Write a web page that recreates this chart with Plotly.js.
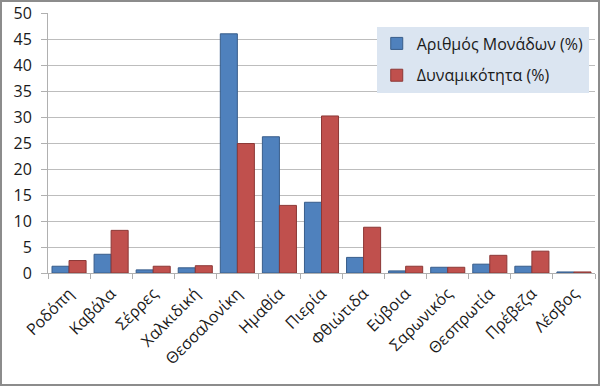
<!DOCTYPE html>
<html><head><meta charset="utf-8">
<script src="https://cdn.plot.ly/plotly-3.0.1.min.js"></script>
<style>
html,body{margin:0;padding:0;background:#fff;}
#wrap{position:relative;width:600px;height:386px;}
#chart{width:600px;height:386px;}
#frame{position:absolute;left:0;top:0;width:596px;height:382px;border:2px solid #8c8c8c;pointer-events:none;}
</style></head>
<body>
<div id="wrap"><div id="chart"></div><div id="frame"></div></div>
<script>
const categories = ["Ροδόπη","Καβάλα","Σέρρες","Χαλκιδική","Θεσσαλονίκη","Ημαθία","Πιερία","Φθιώτιδα","Εύβοια","Σαρωνικός","Θεσπρωτία","Πρέβεζα","Λέσβος"];
const units = [1.3, 3.6, 0.6, 1.0, 46.0, 26.2, 13.6, 3.0, 0.4, 1.1, 1.7, 1.3, 0.2];
const capacity = [2.4, 8.2, 1.3, 1.4, 24.9, 13.0, 30.2, 8.8, 1.3, 1.1, 3.4, 4.2, 0.2];
const seriesNames = ["Αριθμός Μονάδων (%)", "Δυναμικότητα (%)"];

const font = "Open Sans, Noto Sans, DejaVu Sans, sans-serif";
const traces = [
  {type:"bar", x:categories, y:units, name:seriesNames[0], legendgroup:"a",
   marker:{color:"#4f81bd", line:{color:"#385d8a", width:1}}},
  {type:"bar", x:categories, y:capacity, name:seriesNames[1], legendgroup:"b",
   marker:{color:"#c0504d", line:{color:"#8c3836", width:1}}}
];
const layout = {
  width:600, height:386,
  margin:{l:48, r:5, t:13, b:113},
  paper_bgcolor:"#fff", plot_bgcolor:"#fff",
  barmode:"group", bargap:0.19, bargroupgap:0,
  font:{family:font, size:16, color:"#1a1a1a"},
  xaxis:{type:"category", tickangle:-45, tickson:"boundaries", ticks:"outside", ticklen:5,
         tickcolor:"#b0b0b0", showline:true, linecolor:"#b0b0b0", linewidth:1,
         showgrid:false, tickfont:{size:16, family:font}, automargin:false, ticklabelstandoff:4},
  yaxis:{range:[0,50], dtick:5, ticks:"outside", ticklen:6, tickcolor:"#b0b0b0",
         showline:true, linecolor:"#b0b0b0", gridcolor:"#bdbdbd", gridwidth:1,
         zeroline:false, tickfont:{size:16, family:font}, automargin:false, ticklabelstandoff:6},
  showlegend:true,
  legend:{x:0.601, y:0.948, xanchor:"left", yanchor:"top", bgcolor:"#dbe5f1",
          font:{size:16, family:font}, traceorder:"grouped", tracegroupgap:8,
          borderwidth:0}
};
Plotly.newPlot("chart", traces, layout, {displayModeBar:false, staticPlot:true});
</script>
</body></html>
